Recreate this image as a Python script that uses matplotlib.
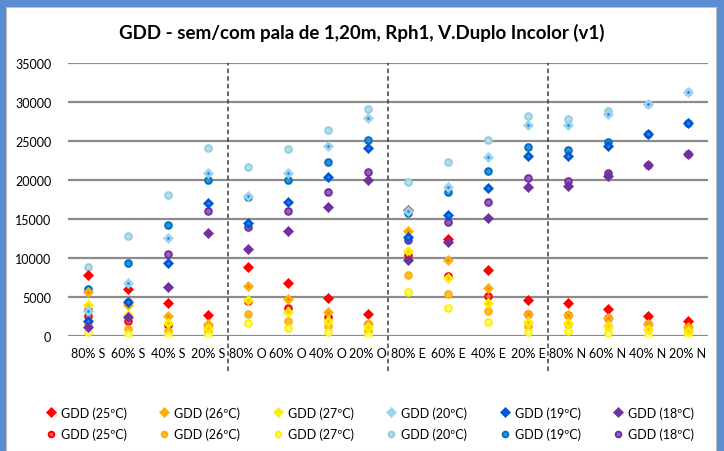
import numpy as np
import matplotlib
matplotlib.use("Agg")
import matplotlib.pyplot as plt
from matplotlib.patches import Rectangle

plt.rcParams['font.family'] = ['Lato', 'DejaVu Sans']

categories = ["80% S", "60% S", "40% S", "20% S",
              "80% O", "60% O", "40% O", "20% O",
              "80% E", "60% E", "40% E", "20% E",
              "80% N", "60% N", "40% N", "20% N"]

# diamonds (first legend row)
d25 = [7800, 6000, 4230, 2690, 8800, 6790, 4830, 2820, 16200, 12430, 8500, 4650, 4230, 3460, 2600, 1960]
d26 = [5600, 4000, 2600, 1490, 6450, 4740, 3030, 1540, 13490, 9780, 6110, 2820, 2730, 2260, 1540, 1110]
d27 = [3970, 2690, 1620, 980, 4650, 3120, 1960, 1110, 10930, 7470, 4230, 1750, 1670, 1240, 900, 680]
d20 = [3250, 6750, 12600, 20840, 17980, 20880, 24300, 28010, 16050, 19130, 22890, 27030, 27030, 28440, 29800, 31300]
d19 = [1960, 4310, 9310, 16990, 14470, 17120, 20410, 24080, 12720, 15500, 19000, 23100, 23100, 24380, 25880, 27370]
d18 = [1110, 2480, 6230, 13150, 11140, 13450, 16480, 20030, 9740, 12000, 15160, 19130, 19170, 20450, 21900, 23310]

# circles (second legend row)
c25 = [2600, 1960, 1400, 1320, 4530, 3540, 2480, 1540, 10420, 7730, 5170, 2780, 2730, 2260, 1600, 1200]
c26 = [1500, 900, 680, 680, 2780, 1960, 1240, 680, 7810, 5420, 3200, 1320, 1600, 1300, 900, 700]
c27 = [470, 260, 130, 100, 1620, 980, 470, 130, 5680, 3590, 1840, 560, 640, 380, 170, 100]
c20 = [8900, 12850, 18060, 24040, 21730, 23950, 26390, 29080, 19680, 22330, 25110, 28220, 27880, 28870, 29800, 31300]
c19 = [6020, 9390, 14220, 20030, 17760, 19980, 22330, 25110, 15800, 18400, 21140, 24250, 23830, 24890, 25880, 27370]
c18 = [3300, 4400, 10550, 16060, 13920, 16060, 18400, 21050, 12300, 14560, 17210, 20280, 19860, 20880, 21900, 23310]

labels = ["GDD (25ºC)", "GDD (26ºC)", "GDD (27ºC)", "GDD (20ºC)", "GDD (19ºC)", "GDD (18ºC)"]
diamonds = [d25, d26, d27, d20, d19, d18]
circles = [c25, c26, c27, c20, c19, c18]
# face, edge, centre colour
d_style = [("#ff0000", "#ff0000", "#ff0000"),
           ("#ffb000", "#ffb000", "#ff7a00"),
           ("#ffee00", "#ffee00", "#ffc000"),
           ("#9dd3ea", "#9dd3ea", "#1e88ff"),
           ("#0058d0", "#0058d0", "#1e90ff"),
           ("#7030a0", "#7030a0", "#7030a0")]
c_style = [("#ff6060", "#ff0000"),
           ("#ffc040", "#ffb000"),
           ("#ffff80", "#ffee00"),
           ("#b8dfec", "#92cddc"),
           ("#3090e0", "#0070c0"),
           ("#9a60c0", "#7030a0")]

fig = plt.figure(figsize=(7.24, 4.52), dpi=100)
fig.patch.set_facecolor("#5b8dd3")
fig.patches.append(Rectangle((6 / 724, 0), 710 / 724, 444 / 452, transform=fig.transFigure,
                             facecolor="white", edgecolor="#bfbfbf", lw=0.8, zorder=-1))

ax = fig.add_axes([68 / 724, 115 / 452, 640 / 724, 273 / 452])
ax.set_facecolor("none")
x = np.arange(len(categories))

handles_d, handles_c = [], []
for vals, (fc, ec) , lab in zip(circles, c_style, labels):
    h, = ax.plot(x, vals, "o", ms=4.8, mfc=fc, mec=ec, mew=1.4, ls="none", label=lab, zorder=3)
    handles_c.append(h)
for vals, (fc, ec, cc), lab in zip(diamonds, d_style, labels):
    h, = ax.plot(x, vals, "D", ms=5.6, mfc=fc, mec=ec, mew=0.5, ls="none", label=lab, zorder=4)
    ax.plot(x, vals, "o", ms=2.0, mfc=cc, mec="none", ls="none", zorder=4)
    handles_d.append(h)

ax.set_xlim(-0.5, len(categories) - 0.5)
ax.set_ylim(0, 35000)
ax.set_yticks(np.arange(0, 35001, 5000))
ax.set_xticks(x)
ax.set_xticklabels(categories)
ax.tick_params(axis="both", length=0, labelsize=9, colors="black")
ax.tick_params(axis="x", pad=8)
ax.tick_params(axis="y", pad=12)
ax.grid(axis="y", color="#8c8c8c", lw=1.6, zorder=0)
ax.set_axisbelow(True)
for s in ax.spines.values():
    s.set_visible(False)

for xs in [3.5, 7.5, 11.5]:
    ax.plot([xs, xs], [-0.13, 1.0], transform=ax.get_xaxis_transform(), color="#404040",
            lw=1.1, ls=(0, (3, 2)), clip_on=False, zorder=2)

fig.text(0.5, 1 - 33 / 452, "GDD - sem/com pala de 1,20m, Rph1, V.Duplo Incolor (v1)",
         ha="center", va="center", fontsize=13.5, fontweight="bold")

# legend fills column by column, so interleave diamonds and circles
leg_handles, leg_labels = [], []
for hd, hc, lab in zip(handles_d, handles_c, labels):
    leg_handles += [hd, hc]
    leg_labels += [lab, lab]
fig.legend(leg_handles, leg_labels, ncol=6, loc="center",
           bbox_to_anchor=(370 / 724, 1 - 424 / 452), frameon=False, fontsize=9,
           handlelength=0.8, handletextpad=0.4, columnspacing=2.6, labelspacing=0.7,
           markerscale=0.85)

fig.savefig("out.png", dpi=100, facecolor=fig.get_facecolor())
